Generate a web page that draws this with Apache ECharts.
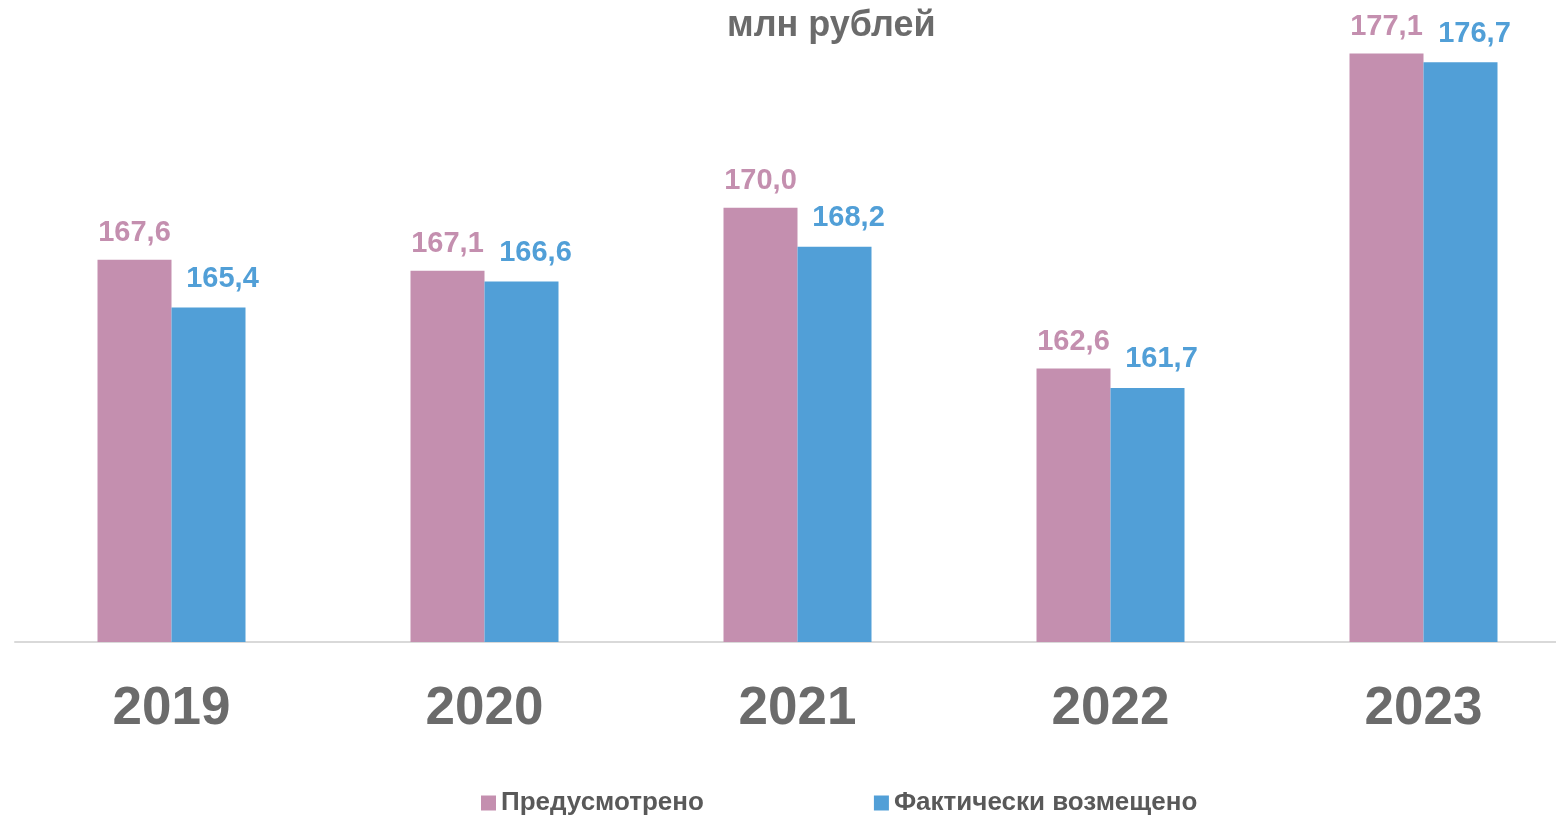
<!DOCTYPE html>
<html>
<head>
<meta charset="utf-8">
<script src="https://cdn.jsdelivr.net/npm/echarts@6/dist/echarts.min.js"></script>
<style>
  html, body { margin: 0; padding: 0; background: #fff; overflow: hidden; }
  #chart { width: 1580px; height: 815px; }
</style>
</head>
<body>
<div id="chart"></div>
<script>
var years = ["2019", "2020", "2021", "2022", "2023"];
var planned = [167.6, 167.1, 170.0, 162.6, 177.1];
var actual = [165.4, 166.6, 168.2, 161.7, 176.7];

var pink = "#c48faf";
var blue = "#519fd7";

function fmt(p) {
  return p.value.toFixed(1).replace(".", ",");
}

// canvas is a bit wider than the window so the last category gets cut like in the original
var myChart = echarts.init(document.getElementById("chart"));
var option = {
  textStyle: { fontFamily: "Liberation Sans, Arial, sans-serif" },
  title: {
    text: "млн рублей",
    left: 722,
    top: 3,
    textStyle: { fontSize: 36, fontWeight: "bold", color: "#6b6b6b" }
  },
  legend: {
    bottom: -1,
    left: 476,
    padding: [5, 5, 0, 5],
    itemWidth: 15,
    itemHeight: 15,
    itemGap: 170,
    icon: "rect",
    textStyle: { fontSize: 26, fontWeight: "bold", color: "#595959" },
    data: ["Предусмотрено", "Фактически возмещено"]
  },
  grid: { left: 15, right: 0, top: 34, bottom: 173, containLabel: false },
  xAxis: {
    type: "category",
    data: years,
    axisTick: { show: false },
    axisLine: { lineStyle: { color: "#d9d9d9", width: 2 } },
    axisLabel: { fontSize: 53, fontWeight: "bold", color: "#6b6b6b", margin: 41 }
  },
  yAxis: {
    type: "value",
    min: 150,
    max: 178,
    show: false,
    splitLine: { show: false }
  },
  series: [
    {
      name: "Предусмотрено",
      type: "bar",
      data: planned,
      barWidth: 74,
      barGap: "0%",
      itemStyle: { color: pink },
      label: {
        show: true,
        position: "top",
        distance: 12,
        formatter: fmt,
        fontSize: 29,
        fontWeight: "bold",
        color: pink
      }
    },
    {
      name: "Фактически возмещено",
      type: "bar",
      data: actual,
      barWidth: 74,
      barGap: "0%",
      itemStyle: { color: blue },
      label: {
        show: true,
        position: "top",
        distance: 14,
        offset: [14, 0],
        formatter: fmt,
        fontSize: 29,
        fontWeight: "bold",
        color: blue
      }
    }
  ]
};
myChart.setOption(option);
</script>
</body>
</html>
